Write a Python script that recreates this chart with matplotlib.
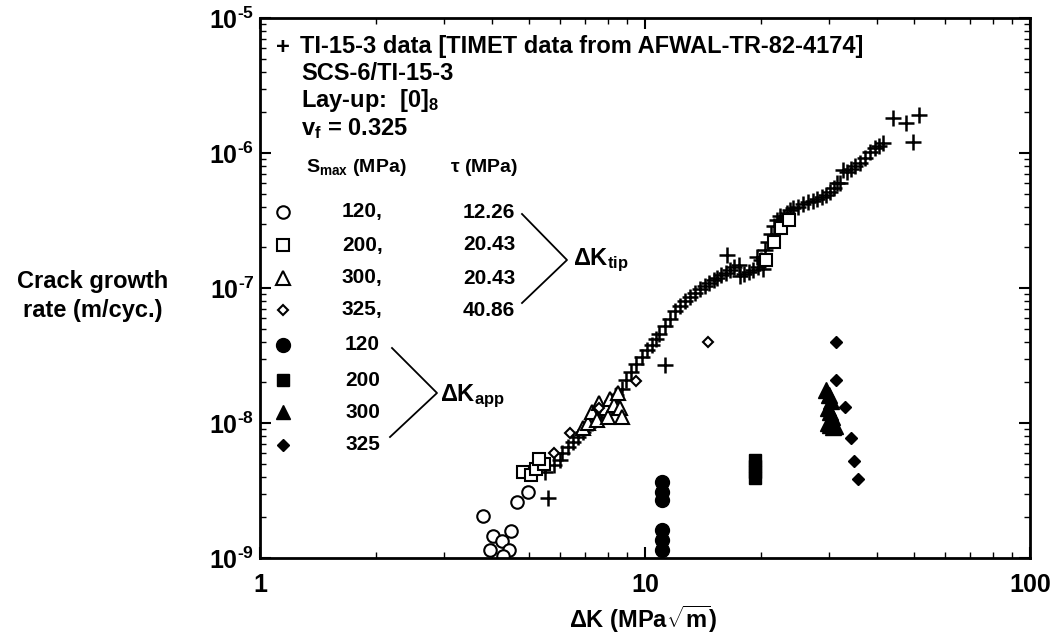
import numpy as np
import matplotlib
matplotlib.use("Agg")
import matplotlib.pyplot as plt
from matplotlib.ticker import FuncFormatter, LogLocator, NullFormatter

plt.rcParams['font.family'] = ['Liberation Sans', 'DejaVu Sans']
plt.rcParams['font.weight'] = 'bold'
plt.rcParams['mathtext.fontset'] = 'custom'
plt.rcParams['mathtext.rm'] = 'Liberation Sans:bold'
plt.rcParams['mathtext.it'] = 'Liberation Sans:bold'
plt.rcParams['mathtext.bf'] = 'Liberation Sans:bold'
plt.rcParams['mathtext.sf'] = 'Liberation Sans:bold'

# --- data (dK in MPa*sqrt(m), da/dN in m/cycle) ---
# Ti-15-3 matrix data (plus signs)
ti_dk = [5.6, 5.5, 5.8, 6.0, 6.1, 6.3, 6.5, 6.7, 6.9, 7.1, 7.3, 7.5, 7.7, 7.9,
         8.2, 8.4, 8.7, 8.9, 9.2, 9.5, 9.8, 10.1, 10.4, 10.7, 10.9, 11.3, 11.6,
         11.3, 12.0, 12.3, 12.7, 13.1, 13.5, 13.9, 14.3, 14.7, 15.1, 15.4, 15.8,
         16.2, 16.6, 17.0, 17.5, 16.3, 17.6, 18.1, 18.6, 19.1, 19.6, 20.3, 19.5,
         20.0, 20.5, 20.9, 21.3, 21.6, 22.0, 22.4, 22.9, 23.4, 23.8, 24.3, 25.0,
         25.8, 26.5, 27.3, 28.0, 28.8, 29.5, 30.2, 30.9, 31.6, 32.1, 32.7, 33.5,
         34.3, 35.2, 36.2, 37.2, 38.4, 39.5, 40.5, 41.5, 44.2, 47.6, 51.6, 49.6]
ti_rate = [2.8e-9, 4.3e-9, 4.9e-9, 5.3e-9, 6.0e-9, 6.6e-9, 7.2e-9, 7.9e-9, 8.6e-9,
           9.4e-9, 1.0e-8, 1.1e-8, 1.2e-8, 1.3e-8, 1.45e-8, 1.6e-8, 1.8e-8,
           2.1e-8, 2.4e-8, 2.75e-8, 3.1e-8, 3.45e-8, 3.8e-8, 4.2e-8, 4.6e-8,
           5.2e-8, 5.9e-8, 2.7e-8, 6.7e-8, 7.4e-8, 8.0e-8, 8.6e-8, 9.2e-8,
           9.8e-8, 1.04e-7, 1.09e-7, 1.14e-7, 1.18e-7, 1.24e-7, 1.3e-7, 1.36e-7,
           1.42e-7, 1.48e-7, 1.75e-7, 1.22e-7, 1.27e-7, 1.32e-7, 1.37e-7, 1.42e-7,
           1.38e-7, 1.7e-7, 1.6e-7, 1.9e-7, 2.2e-7, 2.5e-7, 2.9e-7, 3.2e-7,
           3.4e-7, 3.3e-7, 3.6e-7, 3.8e-7, 3.9e-7, 4.0e-7, 4.2e-7, 4.3e-7,
           4.4e-7, 4.6e-7, 4.7e-7, 4.9e-7, 5.1e-7, 5.5e-7, 6.0e-7, 6.0e-7,
           7.5e-7, 7.2e-7, 7.6e-7, 8.0e-7, 8.4e-7, 9.2e-7, 1.02e-6, 1.08e-6,
           1.12e-6, 1.19e-6, 1.81e-6, 1.68e-6, 1.91e-6, 1.21e-6]

# dK_tip, open symbols
tip120_dk = [3.80, 4.66, 4.96, 4.04, 4.48, 4.26, 3.96, 4.43, 4.28]
tip120_rate = [2.06e-9, 2.59e-9, 3.07e-9, 1.46e-9, 1.59e-9, 1.34e-9, 1.15e-9, 1.15e-9, 1.03e-9]
tip200_dk = [4.82, 5.05, 5.2, 5.45, 5.3, 20.6, 21.6, 22.6, 23.6]
tip200_rate = [4.3e-9, 4.1e-9, 4.6e-9, 5.0e-9, 5.4e-9, 1.6e-7, 2.2e-7, 2.8e-7, 3.2e-7]
tip300_dk = [6.9, 7.1, 7.3, 7.5, 7.6, 7.9, 8.0, 8.1, 8.3, 8.5, 8.6, 8.7]
tip300_rate = [9.2e-9, 1.0e-8, 1.2e-8, 1.05e-8, 1.4e-8, 1.3e-8, 1.1e-8, 1.5e-8,
               1.35e-8, 1.67e-8, 1.3e-8, 1.11e-8]
tip325_dk = [5.8, 6.4, 7.6, 9.46, 14.55]
tip325_rate = [6.0e-9, 8.5e-9, 1.3e-8, 2.05e-8, 4.0e-8]

# dK_app, filled symbols
app120_dk = [11.1, 11.1, 11.1, 11.1, 11.1, 11.1]
app120_rate = [3.66e-9, 3.08e-9, 2.7e-9, 1.61e-9, 1.36e-9, 1.15e-9]
app200_dk = [19.3, 19.3, 19.3, 19.3]
app200_rate = [5.3e-9, 4.8e-9, 4.3e-9, 3.9e-9]
app300_dk = [29.6, 30.0, 30.4, 29.8, 30.2, 30.6, 29.9, 30.3, 30.8, 31.2]
app300_rate = [1.75e-8, 1.6e-8, 1.45e-8, 1.3e-8, 1.2e-8, 1.1e-8, 1.0e-8, 9.6e-9, 9.4e-9, 9.5e-9]
app325_dk = [31.3, 31.3, 33.1, 34.2, 35.0, 35.8]
app325_rate = [4.0e-8, 2.08e-8, 1.32e-8, 7.7e-9, 5.2e-9, 3.85e-9]

smax_vals = ['120', '200', '300', '325']
tau_vals = ['12.26', '20.43', '20.43', '40.86']
x_ticks = [1, 10, 100]
y_ticks = [1e-9, 1e-8, 1e-7, 1e-6, 1e-5]

W, H = 1057, 640


def fx(px):
    return px / W


def fy(py):
    return 1 - py / H


fig = plt.figure(figsize=(W / 100, H / 100), dpi=100)
ax = fig.add_axes([fx(260), fy(558), fx(1030) - fx(260), fy(18) - fy(558)])
ax.set_xscale('log')
ax.set_yscale('log')
ax.set_xlim(1, 100)
ax.set_ylim(1e-9, 1e-5)

k = 'black'
ax.plot(ti_dk, ti_rate, '+', color=k, ms=11, mew=1.8)
ax.plot(tip120_dk, tip120_rate, 'o', mfc='white', mec=k, ms=9, mew=1.5)
ax.plot(tip200_dk, tip200_rate, 's', mfc='white', mec=k, ms=9, mew=1.5)
ax.plot(tip300_dk, tip300_rate, '^', mfc='white', mec=k, ms=10, mew=1.5)
ax.plot(tip325_dk, tip325_rate, 'D', mfc='white', mec=k, ms=5, mew=1.5)
ax.plot(app120_dk, app120_rate, 'o', color=k, ms=10)
ax.plot(app200_dk, app200_rate, 's', color=k, ms=9)
ax.plot(app300_dk, app300_rate, '^', color=k, ms=11)
ax.plot(app325_dk, app325_rate, 'D', color=k, ms=6)

for s in ax.spines.values():
    s.set_linewidth(2)
ax.set_xticks(x_ticks)
ax.set_yticks(y_ticks)
ax.xaxis.set_minor_locator(LogLocator(base=10, subs=np.arange(2, 10), numticks=10))
ax.yaxis.set_minor_locator(LogLocator(base=10, subs=np.arange(2, 10), numticks=10))
ax.set_xticklabels(['%g' % v for v in x_ticks])
# short hyphen in the exponent, as in the scanned figure
ax.set_yticklabels(['$10^{\u2010%d}$' % abs(round(np.log10(v))) for v in y_ticks])
ax.xaxis.set_minor_formatter(NullFormatter())
ax.yaxis.set_minor_formatter(NullFormatter())
ax.tick_params(which='both', direction='in', top=True, right=True, labelsize=18)
ax.tick_params(which='major', length=8, width=1.5)
ax.tick_params(which='minor', length=4, width=1)
ax.tick_params(axis='x', pad=11)
ax.tick_params(axis='y', pad=4)
ax.set_xlim(1, 100)
ax.set_ylim(1e-9, 1e-5)

fig.text(fx(643), fy(619), r'$\Delta$K (MPa$\sqrt{\rm m}$)', ha='center', va='center',
         fontsize=17, fontweight='bold')
fig.text(fx(93), fy(296), 'Crack growth\nrate (m/cyc.)', ha='center', va='center',
         fontsize=17, fontweight='bold', linespacing=1.3)

# legend block
mk_x = 283
fig.text(fx(mk_x), fy(47), '+', ha='center', va='center', fontsize=17, fontweight='bold')
fig.text(fx(300), fy(47), 'TI-15-3 data [TIMET data from AFWAL-TR-82-4174]',
         ha='left', va='center', fontsize=17, fontweight='bold')
fig.text(fx(301), fy(73), 'SCS-6/TI-15-3', ha='left', va='center', fontsize=17, fontweight='bold')
fig.text(fx(301), fy(100), r'Lay-up:  [0]$_8$', ha='left', va='center', fontsize=17, fontweight='bold')
fig.text(fx(301), fy(129), r'v$_{\rm f}$ = 0.325', ha='left', va='center', fontsize=17, fontweight='bold')
fig.text(fx(306), fy(168), r'S$_{\rm max}$ (MPa)', ha='left', va='center', fontsize=14, fontweight='bold')
fig.text(fx(450), fy(168), r'$\tau$ (MPa)', ha='left', va='center', fontsize=14, fontweight='bold')

tip_y = [212, 245, 278, 310]
tip_mk = [('o', 9), ('s', 9), ('^', 10), ('D', 5)]
for yy, (m, ms), sv, tv in zip(tip_y, tip_mk, smax_vals, tau_vals):
    ax.plot([fx(mk_x)], [fy(yy)], m, mfc='white', mec=k, ms=ms, mew=1.5,
            transform=fig.transFigure, clip_on=False)
    fig.text(fx(342), fy(yy), sv + ',', ha='left', va='center', fontsize=15, fontweight='bold')
    fig.text(fx(515), fy(yy), tv, ha='right', va='center', fontsize=15, fontweight='bold')

app_y = [345, 380, 412, 445]
app_mk = [('o', 10), ('s', 9), ('^', 10), ('D', 6)]
for yy, (m, ms), sv in zip(app_y, app_mk, smax_vals):
    ax.plot([fx(mk_x)], [fy(yy)], m, color=k, ms=ms,
            transform=fig.transFigure, clip_on=False)
    fig.text(fx(345), fy(yy), sv, ha='left', va='center', fontsize=15, fontweight='bold')

# brackets
ax.plot([fx(522), fx(567), fx(522)], [fy(214), fy(260), fy(303)], color=k, lw=1.3,
        transform=fig.transFigure, clip_on=False)
fig.text(fx(573), fy(260), r'$\Delta$K$_{\rm tip}$', ha='left', va='center', fontsize=17, fontweight='bold')
ax.plot([fx(392), fx(437), fx(390)], [fy(348), fy(393), fy(437)], color=k, lw=1.3,
        transform=fig.transFigure, clip_on=False)
fig.text(fx(440), fy(396), r'$\Delta$K$_{\rm app}$', ha='left', va='center', fontsize=17, fontweight='bold')

fig.savefig('out.png', dpi=100)
